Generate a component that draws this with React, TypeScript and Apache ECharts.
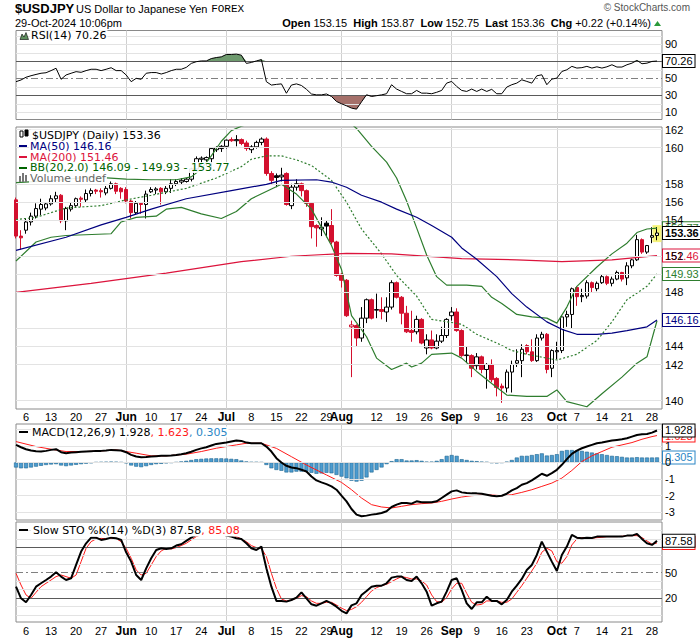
import React, { useEffect, useRef } from "react";
import * as echarts from "echarts";

// ---------------- categories (weekday trading dates) ----------------
const mayDays = [2, 3, 6, 7, 8, 9, 10, 13, 14, 15, 16, 17, 20, 21, 22, 23, 24, 27, 28, 29, 30, 31];
const junDays = [3, 4, 5, 6, 7, 10, 11, 12, 13, 14, 17, 18, 19, 20, 21, 24, 25, 26, 27, 28];
const julDays = [1, 2, 3, 4, 5, 8, 9, 10, 11, 12, 15, 16, 17, 18, 19, 22, 23, 24, 25, 26, 29, 30, 31];
const augDays = [1, 2, 5, 6, 7, 8, 9, 12, 13, 14, 15, 16, 19, 20, 21, 22, 23, 26, 27, 28, 29, 30];
const sepDays = [2, 3, 4, 5, 6, 9, 10, 11, 12, 13, 16, 17, 18, 19, 20, 23, 24, 25, 26, 27, 30];
const octDays = [1, 2, 3, 4, 7, 8, 9, 10, 11, 14, 15, 16, 17, 18, 21, 22, 23, 24, 25, 28, 29, 30];
const pad = (n: number) => (n < 10 ? "0" + n : String(n));
const dates: string[] = [
  ...mayDays.map((d) => `2024-05-${pad(d)}`),
  ...junDays.map((d) => `2024-06-${pad(d)}`),
  ...julDays.map((d) => `2024-07-${pad(d)}`),
  ...augDays.map((d) => `2024-08-${pad(d)}`),
  ...sepDays.map((d) => `2024-09-${pad(d)}`),
  ...octDays.map((d) => `2024-10-${pad(d)}`),
];

// ---------------- x tick labels ----------------
const tickDates = [
  "2024-05-06", "2024-05-13", "2024-05-20", "2024-05-27", "2024-06-03", "2024-06-10", "2024-06-17",
  "2024-06-24", "2024-07-01", "2024-07-08", "2024-07-15", "2024-07-22", "2024-07-29", "2024-08-01",
  "2024-08-12", "2024-08-19", "2024-08-26", "2024-09-02", "2024-09-09", "2024-09-16", "2024-09-23",
  "2024-10-01", "2024-10-07", "2024-10-14", "2024-10-21", "2024-10-28",
];
const tickTexts = ["6", "13", "20", "27", "Jun", "10", "17", "24", "Jul", "8", "15", "22", "29", "Aug",
  "12", "19", "26", "Sep", "9", "16", "23", "Oct", "7", "14", "21", "28"];

// ---------------- y tick levels ----------------
const priceLevels = [140, 142, 144, 146, 148, 150, 152, 154, 156, 158, 160, 162];
const priceLabeled = [140, 142, 144, 148, 152, 154, 156, 158, 160, 162];
const rsiLevels = [10, 20, 30, 40, 50, 60, 70, 80, 90, 100];
const rsiLabeled = [10, 30, 50, 90];
const macdLevels = [-3, -2, -1, 0, 1, 2];
const macdLabeled = [-3, -2, -1, 0, 1];
const stoLevels = [0, 10, 20, 30, 40, 50, 60, 70, 80, 90, 100];
const stoLabeled = [20, 50];

// ---------------- OHLC (May 2 .. Oct 29) ----------------
const opens = [
  156.2, 153.1, 153.6, 154.3, 154.8, 155.4, 155.5, 155.85, 156.3, 156.6,
  154.4, 155.4, 155.7, 156.35, 156.2, 156.75, 157.05, 157.0, 156.8, 157.2,
  157.6, 157.2, 157.1, 156.1, 155.1, 155.9, 155.8, 156.9, 157.05, 157.2,
  156.9, 157.2, 157.6, 157.75, 157.8, 158.0, 158.9, 159.75, 159.7, 159.8,
  160.6, 160.7, 160.9, 161.5, 161.4, 161.5, 161.2, 160.6, 160.85, 161.25,
  161.55, 158.5, 158.3, 158.2, 158.5, 155.7, 157.3, 157.6, 157.0, 155.9,
  154.0, 153.7, 154.2, 154.0, 152.6, 149.9, 149.4, 145.6, 145.7, 144.7,
  146.3, 147.8, 146.95, 147.0, 146.8, 147.2, 149.2, 148.0, 146.7, 145.3,
  145.2, 146.2, 143.9, 144.55, 143.9, 144.45, 144.9, 146.5, 146.8, 145.3,
  143.3, 143.3, 142.5, 143.2, 142.2, 142.6, 141.5, 140.9, 140.75, 142.0,
  142.7, 142.9, 144.1, 143.6, 142.9, 144.7, 145.0, 142.3, 143.6, 143.7,
  146.4, 146.6, 148.8, 148.05, 148.1, 149.2, 148.7, 149.2, 149.7, 149.15,
  149.5, 150.05, 149.6, 150.6, 151.1, 152.8, 151.75, 153.0, 153.15,
];
const highs = [
  156.4, 153.6, 154.6, 155.1, 155.9, 156.3, 156.0, 156.6, 156.9, 156.7,
  155.6, 156.0, 156.4, 156.5, 157.1, 157.2, 157.15, 157.2, 157.4, 157.8,
  157.7, 157.3, 157.3, 156.2, 156.1, 156.0, 157.0, 157.3, 157.3, 157.3,
  157.4, 158.0, 158.0, 158.1, 158.1, 159.0, 160.0, 160.0, 160.0, 160.8,
  160.9, 161.0, 161.5, 161.7, 161.9, 161.6, 161.4, 161.0, 161.4, 161.7,
  161.7, 158.7, 158.5, 159.0, 158.6, 157.6, 158.0, 157.7, 157.1, 156.0,
  154.1, 154.7, 154.4, 155.4, 152.7, 150.0, 149.5, 146.1, 145.8, 147.2,
  147.9, 147.9, 148.3, 148.0, 148.0, 149.4, 149.3, 148.1, 147.3, 146.9,
  146.5, 146.3, 145.0, 145.3, 145.0, 145.6, 146.3, 147.2, 147.1, 145.4,
  144.0, 143.4, 143.5, 143.3, 142.7, 143.0, 141.6, 141.1, 142.2, 142.9,
  143.8, 144.2, 144.2, 144.6, 145.0, 145.2, 145.1, 143.8, 144.4, 146.5,
  146.9, 148.8, 148.9, 148.7, 149.4, 149.3, 149.3, 149.85, 149.8, 149.7,
  150.2, 150.1, 150.9, 151.2, 153.2, 152.9, 152.35, 153.85, 153.87,
];
const lows = [
  152.9, 151.95, 153.3, 154.0, 154.6, 154.9, 155.3, 155.7, 156.0, 154.2,
  153.6, 155.2, 155.6, 155.6, 156.0, 156.5, 156.7, 156.4, 156.6, 157.1,
  156.7, 156.3, 155.9, 154.6, 154.9, 155.0, 154.6, 156.8, 156.7, 155.8,
  156.7, 156.8, 157.4, 157.5, 157.7, 157.8, 158.7, 158.9, 159.1, 159.0,
  160.4, 160.4, 160.7, 161.3, 160.9, 161.0, 160.5, 160.3, 160.7, 161.0,
  158.3, 157.5, 157.3, 157.8, 155.7, 155.4, 157.0, 156.5, 155.6, 152.9,
  152.2, 153.1, 153.0, 152.4, 149.7, 148.8, 146.4, 141.6, 144.0, 144.4,
  145.9, 146.2, 146.3, 146.2, 146.0, 147.0, 147.9, 145.8, 145.1, 144.4,
  145.0, 144.2, 143.4, 143.8, 143.8, 144.3, 144.7, 146.1, 145.2, 143.2,
  142.7, 141.6, 142.2, 141.9, 140.7, 141.2, 140.1, 139.6, 140.4, 140.4,
  142.4, 141.6, 143.4, 142.8, 142.8, 144.5, 141.9, 141.6, 143.0, 143.5,
  145.6, 145.5, 147.3, 147.6, 147.9, 148.4, 148.5, 149.1, 149.0, 148.9,
  149.4, 149.3, 149.0, 150.4, 151.0, 151.6, 151.6, 152.5, 152.75,
];
const closes = [
  153.1, 152.95, 154.3, 154.8, 155.45, 155.8, 155.85, 156.3, 156.55, 154.4,
  155.45, 155.7, 156.3, 156.25, 156.75, 157.0, 156.95, 156.9, 157.2, 157.6,
  156.95, 156.9, 156.1, 155.1, 155.9, 155.8, 156.7, 157.1, 157.15, 156.9,
  157.2, 157.6, 157.8, 157.9, 158.0, 158.9, 159.8, 159.85, 159.9, 160.7,
  160.8, 160.9, 161.45, 161.4, 161.5, 161.15, 160.7, 160.85, 161.25, 161.55,
  158.5, 157.9, 158.15, 158.35, 155.8, 157.3, 157.6, 157.0, 155.9, 153.9,
  153.8, 153.85, 153.95, 152.6, 149.8, 149.4, 146.5, 145.75, 144.7, 146.3,
  147.8, 146.3, 147.0, 146.85, 147.2, 149.2, 148.0, 146.7, 145.2, 145.15,
  146.2, 144.3, 144.55, 143.9, 144.45, 144.9, 146.2, 146.8, 145.3, 143.3,
  143.35, 142.3, 143.2, 142.2, 142.6, 141.4, 140.8, 140.75, 142.0, 142.6,
  142.9, 143.8, 143.6, 142.9, 144.7, 145.0, 142.2, 143.7, 143.7, 146.4,
  146.6, 148.7, 148.05, 148.15, 149.2, 148.8, 149.15, 149.7, 149.15, 149.5,
  150.05, 149.5, 150.6, 151.1, 152.8, 151.75, 152.3, 153.14, 153.36,
];

// ---------------- overlays (sampled at day indices) ----------------
const ma50Days = [0, 10, 17, 22, 27, 34, 43, 50, 53, 60, 63, 66, 69, 73, 76, 80, 83, 87, 89, 92, 96, 99, 102, 106, 109, 112, 116, 119, 122, 126, 128];
const ma50Vals = [151.9, 153.0, 154.05, 154.7, 155.4, 156.3, 157.0, 157.55, 157.9, 157.95, 157.75, 157.3, 156.6, 156.0, 155.4, 154.7, 154.0, 153.0, 152.1, 151.15, 149.7, 148.3, 147.2, 146.0, 145.4, 145.0, 145.0, 145.1, 145.3, 145.6, 146.16];
const ma200Days = [0, 15, 30, 45, 55, 66, 75, 89, 100, 109, 119, 128];
const ma200Vals = [148.4, 149.15, 150.0, 150.95, 151.4, 151.65, 151.6, 151.2, 151.1, 150.95, 151.1, 151.46];
const bbMidDays = [0, 4, 10, 17, 22, 27, 34, 40, 45, 47, 50, 53, 56, 59, 63, 66, 69, 73, 76, 80, 83, 87, 89, 92, 96, 99, 102, 106, 108, 112, 116, 119, 122, 126, 128];
const bbMidVals = [154.5, 154.7, 155.5, 155.7, 156.2, 156.6, 157.2, 158.1, 159.1, 159.75, 160.05, 160.05, 159.7, 159.2, 157.9, 156.0, 153.7, 151.6, 149.8, 148.1, 146.2, 145.95, 145.8, 145.0, 144.3, 143.7, 143.4, 143.1, 142.95, 143.4, 144.5, 146.0, 147.8, 148.9, 149.93];
const bbUpDays = [0, 8, 15, 22, 27, 32, 35, 37, 39, 41, 43, 45, 50, 55, 62, 67, 68, 71, 74, 76, 78, 80, 82, 84, 86, 90, 93, 95, 97, 100, 103, 106, 108, 110, 112, 116, 119, 122, 124, 126, 128];
const bbUpVals = [157.7, 157.9, 158.2, 158.0, 157.95, 157.95, 158.2, 158.9, 160.05, 161.35, 162.3, 162.7, 163.4, 163.5, 163.3, 162.9, 162.5, 160.9, 159.5, 158.1, 156.1, 153.8, 151.5, 149.7, 149.0, 149.0, 148.9, 148.0, 147.5, 146.6, 146.4, 146.3, 145.9, 147.2, 148.9, 150.5, 151.6, 152.5, 153.4, 153.7, 153.77];
const bbLoDays = [0, 4, 7, 10, 19, 21, 24, 28, 30, 33, 37, 41, 44, 47, 53, 56, 59, 63, 65, 67, 70, 72, 75, 78, 79, 81, 83, 87, 89, 92, 95, 98, 102, 106, 108, 110, 114, 117, 121, 124, 126, 128];
const bbLoVals = [151.0, 152.6, 153.0, 153.15, 153.3, 154.3, 154.7, 154.8, 155.4, 155.55, 155.0, 154.6, 155.2, 156.3, 157.55, 156.7, 155.4, 152.3, 150.3, 146.5, 144.8, 143.1, 142.2, 142.7, 142.4, 142.7, 143.4, 143.5, 143.1, 142.05, 141.1, 140.2, 140.1, 140.1, 140.6, 139.7, 139.3, 140.3, 141.6, 142.7, 143.2, 146.09];

// ---------------- RSI(14) ----------------
const rsi = [
  46.0, 48.0, 51.2, 53.0, 54.5, 55.9, 56.5, 59.0, 61.8, 48.8,
  53.9, 55.9, 57.8, 57.0, 59.0, 60.6, 60.6, 59.0, 60.6, 62.4,
  59.0, 59.0, 53.9, 46.0, 49.9, 48.8, 55.9, 56.7, 56.7, 55.0,
  56.7, 59.0, 60.6, 60.6, 62.8, 67.5, 69.5, 70.4, 70.4, 73.2,
  74.4, 75.2, 78.0, 78.0, 78.4, 77.2, 67.5, 68.6, 70.4, 72.0,
  46.0, 42.0, 42.8, 43.4, 32.4, 42.0, 43.4, 41.5, 37.0, 31.5,
  30.5, 30.5, 31.5, 28.6, 22.7, 20.0, 17.6, 14.9, 13.7, 22.3,
  30.6, 28.6, 29.5, 30.5, 31.8, 42.4, 37.3, 34.5, 31.8, 31.8,
  35.7, 32.5, 32.5, 31.8, 33.5, 35.7, 44.3, 46.3, 40.4, 35.7,
  34.5, 37.3, 34.5, 37.3, 34.5, 37.0, 31.8, 31.8, 39.6, 42.4,
  44.3, 48.2, 46.3, 44.3, 52.9, 54.1, 42.4, 49.0, 50.2, 58.0,
  60.0, 64.0, 62.0, 62.5, 64.0, 62.0, 63.5, 62.0, 63.5, 65.9,
  63.2, 63.2, 65.9, 67.8, 71.0, 67.1, 67.8, 69.8, 70.26,
];

// ---------------- MACD(12,26,9) ----------------
const macd = [
  1.06, 0.92, 0.8, 0.72, 0.68, 0.66, 0.7, 0.76, 0.8, 0.62,
  0.56, 0.6, 0.62, 0.64, 0.66, 0.68, 0.7, 0.7, 0.72, 0.76,
  0.74, 0.72, 0.62, 0.46, 0.36, 0.32, 0.33, 0.36, 0.38, 0.4,
  0.4, 0.42, 0.45, 0.5, 0.56, 0.65, 0.76, 0.85, 0.92, 1.02,
  1.12, 1.16, 1.2, 1.26, 1.32, 1.3, 1.2, 1.16, 1.16, 1.16,
  0.96, 0.66, 0.26, 0.0, -0.2, -0.3, -0.34, -0.44, -0.54, -0.84,
  -1.08, -1.2, -1.3, -1.44, -1.64, -2.0, -2.34, -2.8, -3.14, -3.24,
  -3.2, -3.14, -3.1, -3.04, -2.94, -2.68, -2.54, -2.44, -2.44, -2.48,
  -2.34, -2.4, -2.4, -2.4, -2.34, -2.14, -1.94, -1.74, -1.68, -1.8,
  -1.84, -1.86, -1.86, -1.88, -1.94, -2.0, -2.04, -2.0, -1.88, -1.68,
  -1.54, -1.34, -1.24, -1.08, -0.88, -0.68, -0.8, -0.64, -0.44, -0.14,
  0.2, 0.52, 0.72, 0.86, 0.96, 1.06, 1.16, 1.2, 1.26, 1.32,
  1.36, 1.4, 1.46, 1.56, 1.66, 1.7, 1.72, 1.8, 1.928,
];
const sigDays = [0, 4, 7, 10, 14, 17, 20, 24, 27, 30, 34, 37, 40, 44, 46, 49, 52, 55, 58, 62, 65, 67, 69, 71, 73, 75, 77, 79, 81, 83, 85, 87, 89, 91, 93, 95, 97, 99, 101, 103, 105, 107, 109, 111, 113, 115, 117, 119, 121, 123, 125, 127, 128];
const sigVals = [1.26, 0.96, 0.8, 0.66, 0.66, 0.7, 0.76, 0.56, 0.4, 0.4, 0.5, 0.66, 0.86, 1.06, 1.16, 1.16, 0.85, 0.35, -0.15, -0.75, -1.2, -1.64, -2.14, -2.54, -2.68, -2.74, -2.64, -2.54, -2.48, -2.44, -2.34, -2.2, -2.08, -2.0, -1.96, -1.96, -2.0, -1.94, -1.8, -1.64, -1.44, -1.24, -0.94, -0.48, 0.06, 0.4, 0.66, 0.92, 1.06, 1.2, 1.4, 1.56, 1.623];
const hist = [
  -0.3, -0.35, -0.35, -0.3, -0.25, -0.2, -0.15, -0.12, -0.1, -0.18,
  -0.22, -0.18, -0.14, -0.1, -0.07, -0.04, 0.02, 0.03, 0.04, 0.05,
  0.04, 0.02, -0.05, -0.18, -0.25, -0.28, -0.22, -0.15, -0.1, -0.08,
  -0.05, -0.02, 0.02, 0.06, 0.1, 0.15, 0.2, 0.22, 0.24, 0.25,
  0.25, 0.25, 0.24, 0.22, 0.2, 0.12, 0.06, 0.03, 0.03, 0.02,
  -0.15, -0.35, -0.45, -0.5, -0.6, -0.6, -0.55, -0.55, -0.55, -0.62,
  -0.68, -0.66, -0.62, -0.65, -0.75, -0.85, -0.95, -1.1, -1.15, -1.1,
  -0.9, -0.6, -0.45, -0.3, -0.1, 0.08, 0.2, 0.2, 0.12, 0.12,
  0.14, 0.1, 0.05, 0.05, 0.1, 0.2, 0.4, 0.45, 0.4, 0.2,
  0.15, 0.1, 0.08, 0.05, 0.03, -0.03, -0.05, -0.02, 0.05, 0.15,
  0.3, 0.4, 0.4, 0.45, 0.5, 0.55, 0.42, 0.45, 0.5, 0.7,
  0.75, 0.75, 0.72, 0.7, 0.65, 0.6, 0.55, 0.5, 0.45, 0.4,
  0.38, 0.34, 0.3, 0.3, 0.32, 0.3, 0.3, 0.3, 0.305,
];

// ---------------- Slow STO %K(14) %D(3) ----------------
const stoK = [
  33.4, 19.6, 14.9, 23.6, 33.4, 37.4, 41.3, 45.3, 50.4, 45.3,
  41.3, 43.3, 59.1, 74.9, 84.7, 91.4, 91.4, 88.7, 89.9, 91.4,
  90.7, 88.7, 74.1, 63.0, 47.2, 41.3, 55.1, 67.0, 76.8, 78.8,
  78.0, 78.8, 82.0, 83.6, 87.5, 91.4, 94.6, 96.6, 97.0, 98.0,
  98.0, 97.0, 93.8, 92.6, 90.7, 89.9, 84.7, 78.8, 76.8, 80.8,
  55.1, 33.4, 16.5, 16.5, 15.7, 17.6, 20.4, 26.7, 19.6, 12.5,
  10.9, 13.7, 16.5, 13.7, 9.7, 4.8, 1.8, 11.3, 13.7, 23.6,
  28.3, 33.4, 34.6, 34.6, 37.4, 44.1, 45.3, 45.3, 41.3, 40.1,
  45.3, 37.4, 27.5, 10.9, 13.7, 15.7, 27.5, 41.3, 43.3, 29.5,
  13.7, 7.0, 14.9, 14.9, 21.6, 16.5, 16.5, 12.5, 17.6, 27.5,
  34.6, 42.5, 53.2, 59.1, 70.9, 86.7, 74.9, 63.0, 52.0, 70.9,
  80.8, 94.6, 91.4, 90.7, 91.4, 91.0, 92.6, 92.6, 92.6, 92.6,
  92.6, 92.6, 93.8, 93.8, 95.8, 89.9, 84.7, 82.8, 87.58,
];
const stoD = [
  49.2, 35.4, 23.6, 19.6, 26.7, 33.4, 37.4, 41.3, 45.3, 47.2,
  45.3, 43.3, 47.2, 63.0, 78.8, 86.7, 89.9, 90.5, 90.0, 90.7,
  90.3, 86.7, 78.8, 67.0, 53.2, 47.2, 49.2, 59.1, 69.0, 75.7,
  78.8, 78.0, 79.6, 82.0, 84.7, 88.7, 92.6, 95.0, 96.5, 97.5,
  97.5, 96.5, 95.0, 94.6, 92.6, 89.9, 86.7, 82.0, 79.6, 78.8,
  69.0, 49.2, 31.5, 18.8, 16.5, 17.6, 19.6, 22.8, 21.6, 16.5,
  13.7, 13.7, 14.9, 14.9, 11.7, 8.0, 5.2, 6.5, 9.7, 14.9,
  21.6, 28.3, 32.2, 34.6, 36.2, 39.3, 42.5, 45.3, 44.1, 42.5,
  42.5, 40.1, 35.4, 23.6, 15.7, 14.9, 20.4, 30.7, 37.4, 37.4,
  25.5, 14.9, 11.7, 12.5, 16.5, 16.5, 16.5, 14.9, 14.9, 18.8,
  26.7, 34.6, 43.3, 52.0, 61.1, 74.1, 78.8, 75.7, 63.0, 61.1,
  69.0, 82.8, 89.9, 91.4, 91.4, 90.7, 91.4, 91.8, 92.6, 92.6,
  92.6, 93.0, 93.8, 93.8, 93.8, 91.4, 87.5, 83.6, 85.08,
];

// ---------------- styling constants ----------------
const F_AX = '"Liberation Sans", Arial, sans-serif';
const F_LEG = '"DejaVu Sans", Verdana, sans-serif';
const F_MONO = '"Liberation Mono", "DejaVu Sans Mono", monospace';
const RED = "#d3102e";
const NAVY = "#00007f";
const CRIMSON = "#dc143c";
const BBG = "#2e7d2e";
const LIGHT = "#e3e3e3";
const DARK = "#5a5a5a";

function buildOption() {
  const ln = Math.log;
  const last = closes.length - 1;
  const idxOf = (d: string) => dates.indexOf(d);
  const labelAt: Record<number, string> = {};
  tickDates.forEach((d, k) => (labelAt[idxOf(d)] = tickTexts[k]));
  const isMonth = (t: string) => !/^\d+$/.test(t);
  const monthIdx = new Set<number>();
  tickDates.forEach((d, k) => { if (isMonth(tickTexts[k])) monthIdx.add(idxOf(d)); });
  const sparse = (days: number[], vals: number[], tf: (v: number) => number = (v) => v) =>
    days.map((d, k) => [d, tf(vals[k])]);

  const GL = 16, GW = 646;
  const panels = [
    { top: 30.5, height: 89, min: 1.5, max: 106.2 },
    { top: 127, height: 282, min: ln(139.125), max: ln(162.63) },
    { top: 424, height: 96, min: -3.464, max: 2.319 },
    { top: 522, height: 100, min: -8.4, max: 109.9 },
  ];
  const grid = panels.map((p) => ({
    left: GL, width: GW, top: p.top, height: p.height, show: true,
    borderColor: "#8a8a8a", borderWidth: 1, backgroundColor: "#fff",
  }));
  const xAxis = panels.map((_, k) => ({
    type: "category", gridIndex: k, data: dates, boundaryGap: false,
    axisLine: { show: false }, axisTick: { show: false },
    axisLabel: {
      show: k === 1 || k === 3,
      interval: (i: number) => labelAt[i] !== undefined,
      formatter: (_v: string, i: number) => {
        const t = labelAt[i] || "";
        return isMonth(t) ? `{m|${t}}` : t;
      },
      margin: k === 1 ? 2 : 3,
      fontFamily: F_AX, fontSize: 11, color: "#000",
      rich: { m: { fontFamily: F_AX, fontSize: 12, fontWeight: "bold", color: "#000" } },
    },
    splitLine: { show: true, interval: (i: number) => monthIdx.has(i), lineStyle: { color: "#d0d0d0", width: 1 } },
  }));
  const yAxis = panels.map((p, k) => ({
    type: "value", gridIndex: k, min: p.min, max: p.max, show: false, splitLine: { show: false },
  }));

  const lvl = (val: number, text: string | null, color: string, type: any = "solid") => ({
    yAxis: val,
    lineStyle: { color, width: 1, type },
    label: text === null ? { show: false } : { show: true, formatter: text },
  });
  const dashDot = [7, 3, 2, 3];
  const gridHelper = (k: number, data: any[], levels: any[]) => ({
    type: "line", xAxisIndex: k, yAxisIndex: k, data, symbol: "none", silent: true, z: 1,
    lineStyle: { opacity: 0, width: 0 },
    markLine: {
      silent: true, symbol: ["none", "none"], animation: false,
      label: { position: "end", distance: 3, fontFamily: F_AX, fontSize: 11, color: "#000" },
      data: levels,
    },
  });
  const tag = (text: string, color: string, bold = false) => ({
    show: true, formatter: text, distance: 6, color,
    fontFamily: F_AX, fontSize: 11, fontWeight: bold ? "bold" : "normal",
    backgroundColor: "#fff", borderColor: color, borderWidth: 1, padding: [1, 2, 0, 2],
  });

  const rsiLv = rsiLevels.map((v) =>
    lvl(v, rsiLabeled.includes(v) ? String(v) : null,
      v === 70 || v === 30 ? DARK : v === 50 ? "#808080" : LIGHT, v === 50 ? dashDot : "solid"));
  const priceLv = priceLevels.map((v) => lvl(ln(v), priceLabeled.includes(v) ? String(v) : null, LIGHT));
  const macdLv = macdLevels.map((v) => lvl(v, macdLabeled.includes(v) ? String(v) : null, LIGHT));
  const stoLv = stoLevels.map((v) =>
    lvl(v, stoLabeled.includes(v) ? String(v) : null,
      v === 80 || v === 20 ? DARK : v === 50 ? "#808080" : LIGHT, v === 50 ? dashDot : "solid"));

  const candleData = opens.map((o, i) => {
    const c = closes[i];
    const down = i === 0 || c < closes[i - 1];
    const col = down ? RED : "#000";
    const fill = c > o ? "#fff" : col;
    return {
      value: [ln(o), ln(c), ln(lows[i]), ln(highs[i])],
      itemStyle: { color: fill, color0: fill, borderColor: col, borderColor0: col, borderWidth: 1 },
    };
  });

  const series: any[] = [
    // RSI
    gridHelper(0, rsi, rsiLv),
    { type: "line", xAxisIndex: 0, yAxisIndex: 0, stack: "lo", data: rsi.map((v) => Math.min(v, 30)), symbol: "none", silent: true, lineStyle: { opacity: 0 }, z: 2 },
    { type: "line", xAxisIndex: 0, yAxisIndex: 0, stack: "lo", data: rsi.map((v) => 30 - Math.min(v, 30)), symbol: "none", silent: true, lineStyle: { opacity: 0 }, areaStyle: { color: "#a5706a", opacity: 1 }, z: 2 },
    { type: "line", xAxisIndex: 0, yAxisIndex: 0, stack: "hi", data: rsi.map(() => 70), symbol: "none", silent: true, lineStyle: { opacity: 0 }, z: 2 },
    { type: "line", xAxisIndex: 0, yAxisIndex: 0, stack: "hi", data: rsi.map((v) => Math.max(v, 70) - 70), symbol: "none", silent: true, lineStyle: { opacity: 0 }, areaStyle: { color: "#6e9a6e", opacity: 1 }, z: 2 },
    { type: "line", xAxisIndex: 0, yAxisIndex: 0, data: rsi, symbol: "none", silent: true, lineStyle: { color: "#000", width: 1 }, z: 5, endLabel: tag(rsi[last].toFixed(2), "#000") },

    // Price panel
    gridHelper(1, closes.map((v) => ln(v)), priceLv),
    { type: "scatter", xAxisIndex: 1, yAxisIndex: 1, data: [[last, ln((highs[last] + lows[last]) / 2)]], symbol: "rect", symbolSize: [9, 17], itemStyle: { color: "#f4f15a" }, silent: true, z: 2 },
    { type: "candlestick", xAxisIndex: 1, yAxisIndex: 1, data: candleData, barWidth: 4, silent: true, z: 3 },
    { type: "line", xAxisIndex: 1, yAxisIndex: 1, data: sparse(bbLoDays, bbLoVals, ln), symbol: "none", silent: true, lineStyle: { color: BBG, width: 1.2 }, z: 4 },
    { type: "line", xAxisIndex: 1, yAxisIndex: 1, data: sparse(bbUpDays, bbUpVals, ln), symbol: "none", silent: true, lineStyle: { color: BBG, width: 1.2 }, z: 4, endLabel: tag(bbUpVals[bbUpVals.length - 1].toFixed(2), BBG) },
    { type: "line", xAxisIndex: 1, yAxisIndex: 1, data: sparse(bbMidDays, bbMidVals, ln), symbol: "none", silent: true, lineStyle: { color: BBG, width: 1.2, type: [2, 2] }, z: 4, endLabel: tag(bbMidVals[bbMidVals.length - 1].toFixed(2), BBG) },
    { type: "line", xAxisIndex: 1, yAxisIndex: 1, data: sparse(ma200Days, ma200Vals, ln), symbol: "none", silent: true, lineStyle: { color: CRIMSON, width: 1.2 }, z: 4, endLabel: tag(ma200Vals[ma200Vals.length - 1].toFixed(2), CRIMSON) },
    { type: "line", xAxisIndex: 1, yAxisIndex: 1, data: sparse(ma50Days, ma50Vals, ln), symbol: "none", silent: true, lineStyle: { color: NAVY, width: 1.2 }, z: 5, endLabel: tag(ma50Vals[ma50Vals.length - 1].toFixed(2), NAVY) },
    { type: "line", xAxisIndex: 1, yAxisIndex: 1, data: closes.map((v) => ln(v)), symbol: "none", silent: true, lineStyle: { opacity: 0, width: 0 }, z: 6, endLabel: tag(closes[last].toFixed(2), "#000", true) },

    // MACD
    gridHelper(2, macd, macdLv),
    { type: "bar", xAxisIndex: 2, yAxisIndex: 2, data: hist, barWidth: 4, silent: true, itemStyle: { color: "#4c9bcf", borderColor: "#1f6690", borderWidth: 0.6 }, z: 2 },
    { type: "line", xAxisIndex: 2, yAxisIndex: 2, data: hist, symbol: "none", silent: true, lineStyle: { opacity: 0, width: 0 }, z: 4, endLabel: tag(hist[last].toFixed(3), "#2b86c5") },
    { type: "line", xAxisIndex: 2, yAxisIndex: 2, data: sparse(sigDays, sigVals), symbol: "none", silent: true, lineStyle: { color: "#ff1a1a", width: 1 }, z: 4, endLabel: tag(sigVals[sigVals.length - 1].toFixed(3), "#ff1a1a") },
    { type: "line", xAxisIndex: 2, yAxisIndex: 2, data: macd, symbol: "none", silent: true, lineStyle: { color: "#000", width: 2 }, z: 5, endLabel: tag(macd[last].toFixed(3), "#000") },

    // STO
    gridHelper(3, stoK, stoLv),
    { type: "line", xAxisIndex: 3, yAxisIndex: 3, data: stoD, symbol: "none", silent: true, lineStyle: { color: "#ff1a1a", width: 1 }, z: 4, endLabel: tag(stoD[last].toFixed(2), "#ff1a1a") },
    { type: "line", xAxisIndex: 3, yAxisIndex: 3, data: stoK, symbol: "none", silent: true, lineStyle: { color: "#000", width: 2 }, z: 5, endLabel: tag(stoK[last].toFixed(2), "#000") },
  ];

  // ---- texts (header + panel legends)
  const txt = (x: number, y: number, text: string, style: any = {}) => ({
    type: "text", x, y, z: 100, silent: true,
    style: { text, fill: "#000", font: `11px ${F_LEG}`, verticalAlign: "middle", ...style },
  });
  const box = (x: number, y: number, w: number, h: number, fill: string, stroke?: string) => ({
    type: "rect", z: 101, silent: true, shape: { x, y, width: w, height: h },
    style: { fill, stroke: stroke || null, lineWidth: 1 },
  });
  const chg = closes[last] - closes[last - 1];
  const pct = (chg / closes[last - 1]) * 100;
  const legBg = { backgroundColor: "rgba(255,255,255,0.9)", padding: [0, 1] };
  const rich = (parts: Record<string, string>) => {
    const r: any = {};
    Object.keys(parts).forEach((k) => (r[k] = { fill: parts[k], fontFamily: F_LEG, fontSize: 11 }));
    return r;
  };

  const graphic: any[] = [
    txt(15, 8.5, "$USDJPY", { font: `bold 13px ${F_AX}` }),
    txt(76, 8.8, "{n|US Dollar to Japanese Yen} {f|FOREX}", {
      rich: {
        n: { fontFamily: F_AX, fontSize: 11, fill: "#000" },
        f: { fontFamily: F_MONO, fontSize: 11, fill: "#000" },
      },
    }),
    txt(15, 23.3, "29-Oct-2024 10:06pm", { font: `11px ${F_AX}` }),
    txt(651, 23.3,
      `{b|Open} ${opens[last].toFixed(2)}  {b|High} ${highs[last].toFixed(2)}  {b|Low} ${lows[last].toFixed(2)}  {b|Last} ${closes[last].toFixed(2)}  {b|Chg} ${chg >= 0 ? "+" : ""}${chg.toFixed(2)} (${pct >= 0 ? "+" : ""}${pct.toFixed(2)}%)`,
      {
        align: "right", font: `11px ${F_AX}`,
        rich: { b: { fontFamily: F_AX, fontSize: 11, fontWeight: "bold", fill: "#000" } },
      }),
    { type: "polygon", z: 101, silent: true, shape: { points: [[654, 26], [661, 26], [657.5, 21]] }, style: { fill: "#2a9a3a" } },
    txt(690, 7.5, "© StockCharts.com", { align: "right", font: `10px ${F_AX}`, fill: "#555" }),

    // RSI legend
    { type: "polygon", z: 101, silent: true, shape: { points: [[20, 39.5], [22, 34], [24, 37], [26, 32.5], [28.5, 39.5]] }, style: { fill: "#5f8f5f", stroke: "#000", lineWidth: 0.6 } },
    txt(30, 35.5, `RSI(14) ${rsi[last].toFixed(2)}`, legBg),

    // price legend
    box(20, 131, 3, 6, "#fff", "#000"), box(25, 130, 3, 6, "#000", "#000"),
    txt(31, 135, `$USDJPY (Daily) ${closes[last].toFixed(2)}`, legBg),
    box(19, 145, 8, 2, NAVY),
    txt(29, 146, `MA(50) ${ma50Vals[ma50Vals.length - 1].toFixed(2)}`, { ...legBg, fill: NAVY }),
    box(19, 156, 8, 2, CRIMSON),
    txt(29, 157, `MA(200) ${ma200Vals[ma200Vals.length - 1].toFixed(2)}`, { ...legBg, fill: CRIMSON }),
    box(19, 167, 8, 2, "#006400"),
    txt(29, 167.5, `BB(20,2.0) ${bbLoVals[bbLoVals.length - 1].toFixed(2)} - ${bbMidVals[bbMidVals.length - 1].toFixed(2)} - ${bbUpVals[bbUpVals.length - 1].toFixed(2)}`, { ...legBg, fill: "#006400" }),
    box(19, 176, 2, 6, "#777"), box(22, 173, 2, 9, "#777"), box(25, 175, 2, 7, "#777"),
    txt(29, 178, "Volume undef", { ...legBg, fill: "#666" }),

    // MACD legend
    box(19, 431, 9, 2, "#000"),
    txt(31, 432, `{k|MACD(12,26,9) ${macd[last].toFixed(3)}}{r|, ${sigVals[sigVals.length - 1].toFixed(3)}}{b|, ${hist[last].toFixed(3)}}`,
      { ...legBg, rich: rich({ k: "#000", r: "#ff1a1a", b: "#2b86c5" }) }),

    // STO legend
    box(19, 529, 9, 2, "#000"),
    txt(31, 530, `{k|Slow STO %K(14) %D(3) ${stoK[last].toFixed(2)}}{r|, ${stoD[last].toFixed(2)}}`,
      { backgroundColor: "#fff", padding: [1, 2], rich: rich({ k: "#000", r: "#ff1a1a" }) }),
  ];

  return {
    animation: false,
    backgroundColor: "#fff",
    textStyle: { fontFamily: F_AX },
    grid, xAxis, yAxis, series, graphic,
  };
}

export default function App() {
  const ref = useRef<HTMLDivElement>(null);
  useEffect(() => {
    document.body.style.margin = "0";
    const chart = echarts.init(ref.current as HTMLDivElement, undefined, { renderer: "svg" });
    chart.setOption(buildOption() as any);
    return () => chart.dispose();
  }, []);
  return <div ref={ref} style={{ width: 700, height: 639, background: "#fff" }} />;
}
